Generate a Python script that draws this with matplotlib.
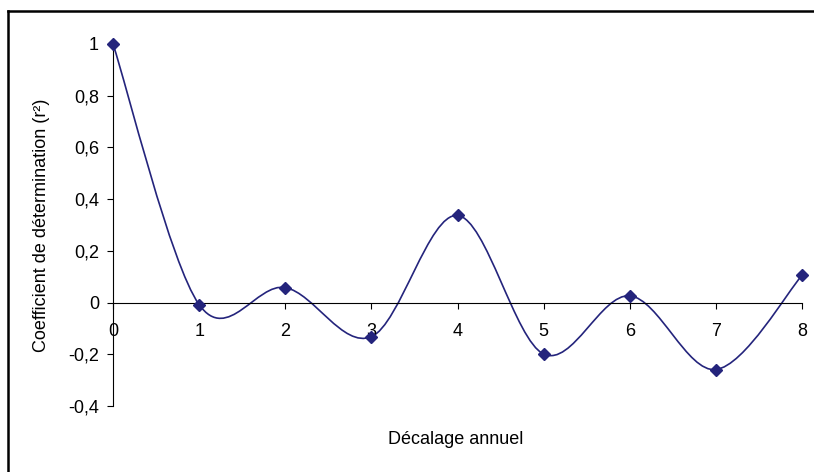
import matplotlib
matplotlib.use("Agg")
import matplotlib.pyplot as plt
from matplotlib.path import Path
from matplotlib.patches import PathPatch
from matplotlib.lines import Line2D

# Data
lags = [0, 1, 2, 3, 4, 5, 6, 7, 8]
r2 = [1.0, -0.008, 0.058, -0.132, 0.337, -0.199, 0.026, -0.259, 0.105]
yticks = [-0.4, -0.2, 0, 0.2, 0.4, 0.6, 0.8, 1]
ytick_labels = ["-0,4", "-0,2", "0", "0,2", "0,4", "0,6", "0,8", "1"]
xticks = [0, 1, 2, 3, 4, 5, 6, 7, 8]
xtick_labels = ["0", "1", "2", "3", "4", "5", "6", "7", "8"]
xlabel = "Décalage annuel"
ylabel = "Coefficient de détermination (r²)"

color = "#24247c"
plt.rcParams['font.family'] = ['Liberation Sans', 'DejaVu Sans']

W, H = 814, 472
fig = plt.figure(figsize=(W / 100, H / 100), dpi=100)
ax = fig.add_axes([113 / W, 1 - 406 / H, (802 - 113) / W, (406 - 44) / H])

# Excel-like smoothed curve (Catmull-Rom as cubic Bezier)
pts = list(zip(lags, r2))
n = len(pts)
verts = [pts[0]]
codes = [Path.MOVETO]
for i in range(n - 1):
    p_prev = pts[i - 1] if i > 0 else pts[i]
    p0 = pts[i]
    p1 = pts[i + 1]
    p_next = pts[i + 2] if i + 2 < n else pts[i + 1]
    c1 = (p0[0] + (p1[0] - p_prev[0]) / 6, p0[1] + (p1[1] - p_prev[1]) / 6)
    c2 = (p1[0] - (p_next[0] - p0[0]) / 6, p1[1] - (p_next[1] - p0[1]) / 6)
    verts += [c1, c2, p1]
    codes += [Path.CURVE4] * 3
patch = PathPatch(Path(verts, codes), facecolor='none', edgecolor=color,
                  lw=1.2, clip_on=False)
ax.add_patch(patch)
ax.plot(lags, r2, linestyle='none', marker='D', markersize=5.8,
        color=color, clip_on=False, zorder=5)

ax.set_xlim(0, 8)
ax.set_ylim(-0.4, 1)
ax.spines['top'].set_visible(False)
ax.spines['right'].set_visible(False)
ax.spines['bottom'].set_position(('data', 0))
for s in ['left', 'bottom']:
    ax.spines[s].set_linewidth(0.8)
ax.set_yticks(yticks)
ax.set_yticklabels(ytick_labels)
ax.set_xticks(xticks)
ax.set_xticklabels(xtick_labels)
ax.tick_params(axis='y', direction='out', length=4, width=0.8, pad=6, labelsize=13)
ax.tick_params(axis='x', direction='out', length=4, width=0.8, pad=11, labelsize=13)

fig.text(456 / W, 1 - 439 / H, xlabel, ha='center', va='center', fontsize=13)
fig.text(42 / W, 1 - 225 / H, ylabel, ha='center', va='center',
         rotation=90, fontsize=13)

# outer chart border (partially cropped)
fig.add_artist(Line2D([8 / W, 1.0], [1 - 11 / H, 1 - 11 / H], color='black',
                      lw=1.8, transform=fig.transFigure))
fig.add_artist(Line2D([8 / W, 8 / W], [0, 1 - 11 / H], color='black',
                      lw=1.8, transform=fig.transFigure))

fig.savefig("out.png", dpi=100)
